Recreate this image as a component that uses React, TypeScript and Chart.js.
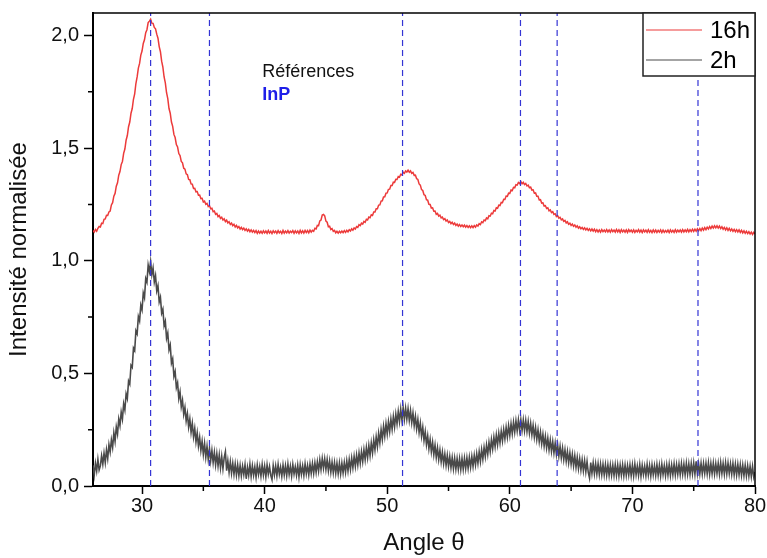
import React, { useEffect, useRef } from 'react';
import { Chart, registerables } from 'chart.js';

Chart.register(...registerables);

const FONT = '"Liberation Sans", Arial, sans-serif';

// Sampling of the diffraction angle axis (degrees)
const ANGLE_START = 26;
const ANGLE_STEP = 0.1;

const SERIES_LABELS = ['16h', '2h'];

// Normalised intensity, 16h sample (26.0 -> 80.0, step 0.1)
const INTENSITY_16H = [
  1.134, 1.127, 1.139, 1.131, 1.144, 1.152, 1.15, 1.167, 1.165, 1.184,
  1.186, 1.202, 1.201, 1.217, 1.221, 1.248, 1.258, 1.287, 1.299, 1.331,
  1.346, 1.38, 1.396, 1.427, 1.441, 1.477, 1.496, 1.535, 1.556, 1.595,
  1.616, 1.655, 1.676, 1.717, 1.741, 1.787, 1.816, 1.855, 1.876, 1.913,
  1.931, 1.965, 1.981, 2.013, 2.026, 2.057, 2.064, 2.072, 2.055, 2.054,
  2.036, 2.03, 2.006, 1.988, 1.951, 1.928, 1.886, 1.86, 1.816, 1.79,
  1.746, 1.72, 1.676, 1.655, 1.616, 1.597, 1.561, 1.547, 1.516, 1.505,
  1.476, 1.467, 1.441, 1.435, 1.411, 1.407, 1.386, 1.382, 1.361, 1.36,
  1.341, 1.34, 1.321, 1.322, 1.306, 1.307, 1.291, 1.292, 1.276, 1.277,
  1.261, 1.265, 1.251, 1.255, 1.241, 1.245, 1.231, 1.233, 1.218, 1.221,
  1.206, 1.21, 1.196, 1.201, 1.188, 1.193, 1.181, 1.186, 1.174, 1.18,
  1.168, 1.173, 1.161, 1.167, 1.156, 1.162, 1.15, 1.157, 1.146, 1.152,
  1.141, 1.148, 1.138, 1.145, 1.135, 1.142, 1.132, 1.139, 1.129, 1.137,
  1.127, 1.135, 1.125, 1.134, 1.122, 1.132, 1.123, 1.131, 1.122, 1.133,
  1.124, 1.132, 1.122, 1.134, 1.123, 1.131, 1.121, 1.133, 1.125, 1.132,
  1.122, 1.134, 1.124, 1.131, 1.121, 1.135, 1.123, 1.132, 1.124, 1.134,
  1.123, 1.131, 1.125, 1.134, 1.122, 1.133, 1.124, 1.132, 1.121, 1.135,
  1.124, 1.133, 1.123, 1.135, 1.125, 1.134, 1.124, 1.136, 1.127, 1.135,
  1.131, 1.144, 1.141, 1.157, 1.156, 1.177, 1.181, 1.203, 1.206, 1.199,
  1.176, 1.171, 1.151, 1.153, 1.139, 1.143, 1.131, 1.135, 1.124, 1.131,
  1.123, 1.131, 1.124, 1.132, 1.125, 1.134, 1.126, 1.135, 1.128, 1.138,
  1.132, 1.142, 1.136, 1.146, 1.141, 1.152, 1.148, 1.16, 1.156, 1.167,
  1.163, 1.175, 1.171, 1.184, 1.181, 1.194, 1.191, 1.204, 1.201, 1.216,
  1.216, 1.231, 1.231, 1.247, 1.248, 1.265, 1.266, 1.283, 1.284, 1.3,
  1.301, 1.317, 1.318, 1.334, 1.334, 1.349, 1.348, 1.362, 1.361, 1.374,
  1.371, 1.384, 1.381, 1.393, 1.388, 1.399, 1.394, 1.402, 1.393, 1.399,
  1.388, 1.392, 1.379, 1.38, 1.364, 1.361, 1.341, 1.336, 1.316, 1.312,
  1.293, 1.29, 1.271, 1.269, 1.251, 1.25, 1.234, 1.235, 1.22, 1.221,
  1.206, 1.21, 1.198, 1.202, 1.19, 1.194, 1.183, 1.187, 1.176, 1.181,
  1.17, 1.175, 1.165, 1.171, 1.161, 1.167, 1.157, 1.163, 1.154, 1.161,
  1.152, 1.159, 1.151, 1.158, 1.149, 1.156, 1.148, 1.155, 1.147, 1.155,
  1.147, 1.156, 1.149, 1.159, 1.154, 1.165, 1.161, 1.173, 1.169, 1.181,
  1.178, 1.19, 1.186, 1.2, 1.198, 1.211, 1.209, 1.223, 1.221, 1.235,
  1.233, 1.247, 1.245, 1.259, 1.258, 1.273, 1.272, 1.287, 1.286, 1.3,
  1.299, 1.314, 1.312, 1.326, 1.324, 1.338, 1.336, 1.348, 1.343, 1.351,
  1.342, 1.348, 1.338, 1.343, 1.332, 1.336, 1.324, 1.327, 1.314, 1.315,
  1.3, 1.301, 1.286, 1.286, 1.27, 1.271, 1.256, 1.257, 1.243, 1.245,
  1.232, 1.235, 1.222, 1.226, 1.214, 1.218, 1.206, 1.209, 1.196, 1.2,
  1.189, 1.193, 1.182, 1.186, 1.175, 1.179, 1.168, 1.173, 1.162, 1.167,
  1.157, 1.163, 1.153, 1.159, 1.149, 1.155, 1.145, 1.151, 1.142, 1.148,
  1.139, 1.146, 1.137, 1.144, 1.135, 1.142, 1.133, 1.141, 1.132, 1.14,
  1.129, 1.138, 1.128, 1.137, 1.127, 1.138, 1.129, 1.136, 1.128, 1.138,
  1.128, 1.137, 1.127, 1.138, 1.129, 1.136, 1.127, 1.139, 1.128, 1.137,
  1.126, 1.138, 1.128, 1.136, 1.127, 1.137, 1.126, 1.138, 1.129, 1.136,
  1.127, 1.137, 1.126, 1.135, 1.128, 1.138, 1.127, 1.136, 1.125, 1.137,
  1.128, 1.136, 1.126, 1.138, 1.127, 1.135, 1.125, 1.137, 1.127, 1.136,
  1.126, 1.135, 1.127, 1.137, 1.125, 1.136, 1.126, 1.134, 1.127, 1.136,
  1.125, 1.137, 1.127, 1.135, 1.126, 1.138, 1.127, 1.136, 1.128, 1.137,
  1.127, 1.138, 1.128, 1.137, 1.129, 1.139, 1.128, 1.138, 1.13, 1.14,
  1.13, 1.14, 1.131, 1.142, 1.133, 1.143, 1.134, 1.145, 1.136, 1.147,
  1.138, 1.149, 1.141, 1.152, 1.143, 1.154, 1.145, 1.155, 1.146, 1.155,
  1.145, 1.154, 1.143, 1.151, 1.14, 1.148, 1.137, 1.146, 1.135, 1.144,
  1.133, 1.141, 1.131, 1.139, 1.129, 1.138, 1.128, 1.137, 1.126, 1.135,
  1.124, 1.133, 1.122, 1.131, 1.121, 1.129, 1.119, 1.127, 1.117, 1.126,
  1.119,
];

// Normalised intensity, 2h sample (26.0 -> 80.0, step 0.1)
const INTENSITY_2H = [
  0.092, 0.048, 0.101, 0.066, 0.118, 0.071, 0.089, 0.134, 0.097, 0.146,
  0.104, 0.161, 0.122, 0.184, 0.151, 0.205, 0.171, 0.236, 0.198, 0.262,
  0.231, 0.297, 0.268, 0.328, 0.297, 0.365, 0.338, 0.409, 0.388, 0.466,
  0.452, 0.536, 0.527, 0.612, 0.601, 0.689, 0.676, 0.752, 0.733, 0.803,
  0.782, 0.857, 0.836, 0.921, 0.905, 0.981, 0.952, 0.996, 0.938, 0.968,
  0.906, 0.934, 0.866, 0.889, 0.817, 0.838, 0.768, 0.785, 0.711, 0.731,
  0.656, 0.679, 0.605, 0.626, 0.546, 0.565, 0.487, 0.508, 0.437, 0.458,
  0.388, 0.418, 0.351, 0.381, 0.318, 0.349, 0.289, 0.322, 0.262, 0.298,
  0.238, 0.279, 0.218, 0.256, 0.196, 0.236, 0.177, 0.216, 0.158, 0.199,
  0.141, 0.189, 0.128, 0.176, 0.119, 0.168, 0.112, 0.158, 0.104, 0.149,
  0.094, 0.143, 0.089, 0.138, 0.081, 0.131, 0.077, 0.126, 0.152, 0.068,
  0.112, 0.061, 0.108, 0.057, 0.101, 0.052, 0.098, 0.049, 0.094, 0.046,
  0.091, 0.045, 0.088, 0.051, 0.094, 0.032, 0.083, 0.047, 0.096, 0.043,
  0.09, 0.048, 0.085, 0.039, 0.093, 0.052, 0.087, 0.044, 0.095, 0.049,
  0.088, 0.041, 0.094, 0.053, 0.086, 0.047, 0.028, 0.091, 0.05, 0.089,
  0.045, 0.096, 0.052, 0.084, 0.043, 0.093, 0.049, 0.09, 0.046, 0.097,
  0.051, 0.088, 0.044, 0.095, 0.053, 0.086, 0.048, 0.092, 0.041, 0.094,
  0.052, 0.089, 0.047, 0.098, 0.054, 0.091, 0.049, 0.097, 0.056, 0.1,
  0.056, 0.103, 0.061, 0.107, 0.066, 0.116, 0.073, 0.122, 0.079, 0.121,
  0.074, 0.117, 0.068, 0.111, 0.062, 0.106, 0.059, 0.104, 0.057, 0.101,
  0.055, 0.102, 0.054, 0.101, 0.058, 0.104, 0.061, 0.111, 0.067, 0.117,
  0.074, 0.124, 0.081, 0.131, 0.087, 0.137, 0.094, 0.146, 0.101, 0.152,
  0.109, 0.161, 0.117, 0.17, 0.126, 0.18, 0.135, 0.191, 0.147, 0.204,
  0.161, 0.218, 0.175, 0.234, 0.191, 0.25, 0.207, 0.265, 0.221, 0.276,
  0.231, 0.285, 0.242, 0.297, 0.252, 0.308, 0.263, 0.319, 0.276, 0.331,
  0.286, 0.341, 0.292, 0.348, 0.296, 0.345, 0.297, 0.343, 0.291, 0.335,
  0.281, 0.324, 0.268, 0.309, 0.254, 0.295, 0.238, 0.279, 0.221, 0.261,
  0.202, 0.241, 0.184, 0.223, 0.166, 0.207, 0.152, 0.194, 0.139, 0.181,
  0.127, 0.169, 0.117, 0.159, 0.107, 0.15, 0.099, 0.142, 0.092, 0.136,
  0.087, 0.131, 0.082, 0.126, 0.077, 0.123, 0.075, 0.121, 0.074, 0.121,
  0.073, 0.122, 0.075, 0.123, 0.077, 0.125, 0.079, 0.127, 0.083, 0.131,
  0.087, 0.136, 0.094, 0.143, 0.101, 0.152, 0.109, 0.161, 0.119, 0.171,
  0.13, 0.182, 0.141, 0.194, 0.153, 0.206, 0.165, 0.217, 0.175, 0.227,
  0.184, 0.235, 0.192, 0.243, 0.2, 0.251, 0.209, 0.26, 0.217, 0.268,
  0.225, 0.276, 0.232, 0.283, 0.239, 0.289, 0.245, 0.293, 0.247, 0.294,
  0.247, 0.293, 0.245, 0.291, 0.242, 0.286, 0.235, 0.278, 0.227, 0.269,
  0.217, 0.259, 0.207, 0.249, 0.197, 0.239, 0.187, 0.229, 0.177, 0.22,
  0.169, 0.212, 0.161, 0.204, 0.154, 0.197, 0.147, 0.19, 0.14, 0.184,
  0.133, 0.176, 0.125, 0.168, 0.117, 0.16, 0.11, 0.153, 0.103, 0.147,
  0.097, 0.14, 0.09, 0.134, 0.083, 0.127, 0.077, 0.121, 0.072, 0.116,
  0.067, 0.112, 0.063, 0.109, 0.06, 0.035, 0.104, 0.056, 0.102, 0.054,
  0.099, 0.053, 0.098, 0.051, 0.097, 0.05, 0.096, 0.049, 0.095, 0.048,
  0.094, 0.047, 0.093, 0.048, 0.092, 0.046, 0.094, 0.047, 0.093, 0.045,
  0.092, 0.048, 0.094, 0.046, 0.093, 0.047, 0.091, 0.049, 0.094, 0.046,
  0.093, 0.045, 0.097, 0.05, 0.089, 0.047, 0.095, 0.043, 0.092, 0.051,
  0.088, 0.046, 0.096, 0.049, 0.091, 0.044, 0.094, 0.05, 0.09, 0.047,
  0.095, 0.048, 0.092, 0.045, 0.097, 0.051, 0.09, 0.046, 0.094, 0.049,
  0.096, 0.047, 0.093, 0.05, 0.098, 0.049, 0.095, 0.052, 0.097, 0.05,
  0.099, 0.052, 0.097, 0.05, 0.101, 0.053, 0.098, 0.051, 0.1, 0.054,
  0.102, 0.052, 0.11, 0.055, 0.099, 0.054, 0.101, 0.053, 0.1, 0.056,
  0.101, 0.054, 0.103, 0.052, 0.1, 0.055, 0.102, 0.053, 0.099, 0.056,
  0.101, 0.053, 0.104, 0.055, 0.1, 0.052, 0.103, 0.054, 0.101, 0.055,
  0.098, 0.052, 0.1, 0.05, 0.097, 0.049, 0.096, 0.05, 0.095, 0.047,
  0.093, 0.046, 0.092, 0.045, 0.09, 0.044, 0.088, 0.042, 0.087, 0.04,
  0.062,
];

// InP reference reflections (dashed lines)
const REFERENCE_INP = [30.7, 35.5, 51.25, 60.87, 63.86, 75.35];

const X_MIN = 26;
const X_MAX = 80;
const X_TICKS = [30, 40, 50, 60, 70, 80];
const X_MINOR_TICKS = [35, 45, 55, 65, 75];
const Y_MIN = 0;
const Y_MAX = 2.1;
const Y_TICKS = [0, 0.5, 1, 1.5, 2];
const Y_TICK_LABELS = ['0,0', '0,5', '1,0', '1,5', '2,0'];
const Y_MINOR_TICKS = [0.25, 0.75, 1.25, 1.75];

const X_TITLE = 'Angle θ';
const Y_TITLE = 'Intensité normalisée';
const NOTE_TITLE = 'Références';
const NOTE_REF = 'InP';
const NOTE_POS = { x: 39.8, y1: 1.84, y2: 1.738 };

const COLOR_16H = '#ec3a3a';
const COLOR_2H = '#4a4a4a';
const COLOR_REF = '#3434d4';

export default function App() {
  const canvasRef = useRef<HTMLCanvasElement | null>(null);

  useEffect(() => {
    const canvas = canvasRef.current;
    if (!canvas) return;

    const toPoints = (vals: number[]) =>
      vals.map((y, i) => ({ x: Math.round((ANGLE_START + i * ANGLE_STEP) * 100) / 100, y }));

    const refDatasets = REFERENCE_INP.map((r) => ({
      label: 'ref',
      data: [
        { x: r, y: Y_MIN },
        { x: r, y: Y_MAX },
      ],
      borderColor: COLOR_REF,
      borderWidth: 1.2,
      borderDash: [6, 4],
      pointRadius: 0,
      order: 0,
    }));

    const decor = {
      id: 'decor',
      afterDraw(chart: any) {
        const { ctx, chartArea: a, scales } = chart;
        const xs = scales.x;
        const ys = scales.y;
        ctx.save();
        ctx.strokeStyle = '#000';
        ctx.lineWidth = 1.5;
        ctx.beginPath();
        ctx.moveTo(a.left, a.top);
        ctx.lineTo(a.right, a.top);
        ctx.lineTo(a.right, a.bottom);
        ctx.stroke();
        ctx.beginPath();
        X_MINOR_TICKS.forEach((v) => {
          const px = xs.getPixelForValue(v);
          ctx.moveTo(px, a.bottom);
          ctx.lineTo(px, a.bottom + 5);
        });
        Y_MINOR_TICKS.forEach((v) => {
          const py = ys.getPixelForValue(v);
          ctx.moveTo(a.left, py);
          ctx.lineTo(a.left - 5, py);
        });
        ctx.stroke();
        ctx.textAlign = 'left';
        ctx.textBaseline = 'middle';
        ctx.fillStyle = '#111';
        ctx.font = `18px ${FONT}`;
        ctx.fillText(NOTE_TITLE, xs.getPixelForValue(NOTE_POS.x), ys.getPixelForValue(NOTE_POS.y1));
        ctx.fillStyle = '#1e1ee8';
        ctx.font = `bold 18px ${FONT}`;
        ctx.fillText(NOTE_REF, xs.getPixelForValue(NOTE_POS.x), ys.getPixelForValue(NOTE_POS.y2));
        const bw = 112;
        const bh = 63;
        const bx = a.right - bw;
        const by = a.top;
        ctx.fillStyle = '#fff';
        ctx.fillRect(bx, by, bw, bh);
        ctx.strokeStyle = '#222';
        ctx.lineWidth = 1.5;
        ctx.strokeRect(bx, by, bw, bh);
        const series = chart.data.datasets.filter((d: any) => SERIES_LABELS.includes(d.label));
        series.forEach((d: any, i: number) => {
          const ly = by + 17 + i * 30;
          ctx.strokeStyle = d.borderColor;
          ctx.lineWidth = 1.2;
          ctx.beginPath();
          ctx.moveTo(bx + 3, ly);
          ctx.lineTo(bx + 59, ly);
          ctx.stroke();
          ctx.fillStyle = '#000';
          ctx.font = `24px ${FONT}`;
          ctx.textBaseline = 'middle';
          ctx.fillText(d.label, bx + 67, ly + 1);
        });
        ctx.restore();
      },
    };

    const chart = new Chart(canvas, {
      type: 'line',
      data: {
        datasets: [
          ...refDatasets,
          {
            label: SERIES_LABELS[0],
            data: toPoints(INTENSITY_16H),
            borderColor: COLOR_16H,
            borderWidth: 1.5,
            pointRadius: 0,
            order: 2,
          },
          {
            label: SERIES_LABELS[1],
            data: toPoints(INTENSITY_2H),
            borderColor: COLOR_2H,
            borderWidth: 1.6,
            pointRadius: 0,
            order: 1,
          },
        ] as any,
      },
      options: {
        animation: false,
        responsive: false,
        maintainAspectRatio: false,
        layout: { padding: { top: 13, right: 12, left: 0, bottom: 0 } },
        elements: { line: { tension: 0 }, point: { radius: 0 } },
        plugins: { legend: { display: false }, tooltip: { enabled: false } },
        scales: {
          x: {
            type: 'linear',
            min: X_MIN,
            max: X_MAX,
            afterBuildTicks: (s: any) => {
              s.ticks = X_TICKS.map((v) => ({ value: v }));
            },
            afterFit: (s: any) => {
              s.height = 72;
              s.paddingLeft = 0;
              s.paddingRight = 0;
            },
            ticks: {
              font: { family: FONT, size: 20 },
              color: '#111',
              padding: 0,
              maxRotation: 0,
              autoSkip: false,
            },
            grid: {
              drawOnChartArea: false,
              drawTicks: true,
              tickLength: 8,
              tickColor: '#000',
              tickWidth: 1.5,
            },
            border: { display: true, color: '#000', width: 2 },
            title: {
              display: true,
              text: X_TITLE,
              color: '#111',
              font: { family: FONT, size: 24 },
              padding: { top: 0, bottom: 0 },
            },
          },
          y: {
            type: 'linear',
            min: Y_MIN,
            max: Y_MAX,
            afterBuildTicks: (s: any) => {
              s.ticks = Y_TICKS.map((v) => ({ value: v }));
            },
            afterFit: (s: any) => {
              s.width = 93;
              s.paddingTop = 0;
              s.paddingBottom = 0;
            },
            ticks: {
              font: { family: FONT, size: 20 },
              color: '#111',
              padding: 5,
              callback: (_v: any, i: number) => Y_TICK_LABELS[i],
            },
            grid: {
              drawOnChartArea: false,
              drawTicks: true,
              tickLength: 9,
              tickColor: '#000',
              tickWidth: 1.5,
            },
            border: { display: true, color: '#000', width: 2 },
            title: {
              display: true,
              text: Y_TITLE,
              color: '#111',
              font: { family: FONT, size: 24 },
              padding: { top: 5, bottom: 0 },
            },
          },
        },
      } as any,
      plugins: [decor],
    });

    return () => chart.destroy();
  }, []);

  return (
    <div style={{ position: 'fixed', left: 0, top: 0, width: 767, height: 558, background: '#fff' }}>
      <canvas ref={canvasRef} width={767} height={558} style={{ display: 'block' }} />
    </div>
  );
}
